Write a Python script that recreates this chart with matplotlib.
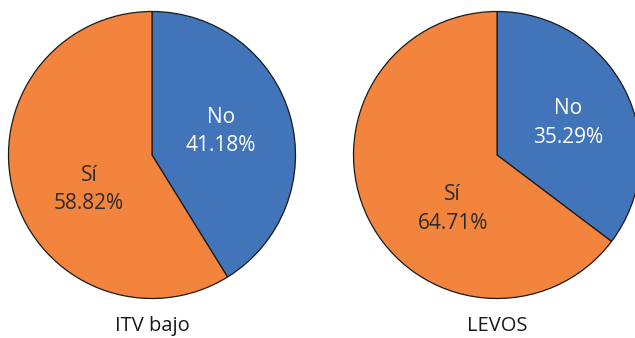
import matplotlib as mpl
mpl.use('Agg')
import matplotlib.pyplot as plt

plt.rcParams['font.family'] = ['Open Sans', 'DejaVu Sans']

groups = ['ITV bajo', 'LEVOS']
categories = ['No', 'Sí']
values = [[41.18, 58.82],
          [35.29, 64.71]]

colors = ['#4174b8', '#f3843e']
txtcol = ['white', '#2b2b2b']

centers = [(152, 183), (497, 183)]
rad = 143.5
# nudges for the slice labels (pixels), to match the original placement
nudge = [[(0, 4), (6, -15)],
         [(7, 0), (20, -22)]]

fig = plt.figure(figsize=(6.35, 3.38), dpi=100)
ax = fig.add_axes([0, 0, 1, 1])

for g in range(len(groups)):
  vals = values[g]
  wedges, texts, autotexts = ax.pie(vals, colors=colors, startangle=90, counterclock=False,
                                    center=centers[g], radius=rad, pctdistance=0.5,
                                    autopct='%.2f%%',
                                    wedgeprops=dict(edgecolor='#1a1a1a', linewidth=0.9))
  for i, t in enumerate(autotexts):
    x, y = t.get_position()
    t.set_position((x + nudge[g][i][0], y + nudge[g][i][1]))
    t.set_text('%s\n%.2f%%' % (categories[i], vals[i]))
    t.set_color(txtcol[i])
    t.set_fontsize(15)
    t.set_linespacing(1.45)
    t.set_ha('center')
    t.set_va('center')
  ax.text(centers[g][0], 12, groups[g], ha='center', va='center', fontsize=14.5, color='#1a1a1a')

ax.set_xlim(0, 635)
ax.set_ylim(0, 338)
ax.set_aspect('auto')
ax.axis('off')

plt.savefig('out.png', dpi=100)
plt.close()
